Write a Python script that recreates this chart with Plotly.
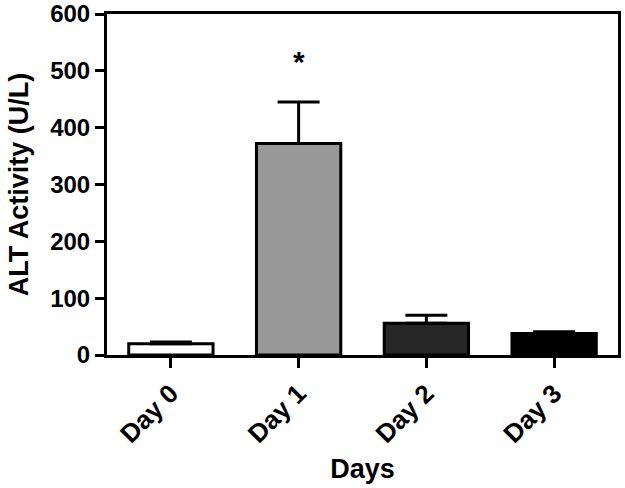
import plotly.graph_objects as go

days = ["Day 0", "Day 1", "Day 2", "Day 3"]
alt_mean = [20, 372, 56, 38]
alt_err = [3, 73, 14, 3]
bar_colors = ["#ffffff", "#999999", "#262626", "#000000"]
y_ticks = [0, 100, 200, 300, 400, 500, 600]

FONT = "Liberation Sans, Arial, sans-serif"

fig = go.Figure()
fig.add_trace(go.Bar(
    x=days, y=alt_mean,
    marker=dict(color=bar_colors, line=dict(color="black", width=3)),
    width=0.66,
    error_y=dict(type="data", array=alt_err, arrayminus=[0]*4, symmetric=False,
                 color="black", thickness=3, width=21),
))
fig.add_annotation(x="Day 1", y=517, text="<b>*</b>", showarrow=False,
                   font=dict(family=FONT, size=30, color="black"))

fig.update_layout(
    width=625, height=488,
    margin=dict(l=107, r=7, t=14, b=133),
    plot_bgcolor="white", paper_bgcolor="white",
    showlegend=False,
    font=dict(family=FONT, color="black"),
)
fig.update_yaxes(
    range=[0, 600], tickvals=y_ticks, ticktext=[f"<b>{v}</b>" for v in y_ticks],
    automargin=False, ticklabeloverflow="allow",
    showgrid=False, zeroline=False,
    showline=True, linecolor="black", linewidth=3, mirror=True,
    ticks="outside", ticklen=9, tickwidth=3, tickcolor="black",
    tickfont=dict(size=24, family=FONT),
    title=dict(text="<b>ALT Activity (U/L)</b>", font=dict(size=27, family=FONT), standoff=14),
)
fig.update_xaxes(
    range=[-0.5, 3.5], tickvals=days, ticktext=[f"<b>{d}</b>" for d in days],
    automargin=False, ticklabeloverflow="allow",
    showgrid=False, zeroline=False,
    showline=True, linecolor="black", linewidth=3, mirror=True,
    ticks="outside", ticklen=10, tickwidth=3, tickcolor="black",
    tickangle=-45,
    tickfont=dict(size=26, family=FONT),
    title=dict(text="<b>Days</b>", font=dict(size=27, family=FONT), standoff=12),
)

fig.write_html("out.html", config={"displayModeBar": False},
               post_script="document.body.style.margin='0';")
